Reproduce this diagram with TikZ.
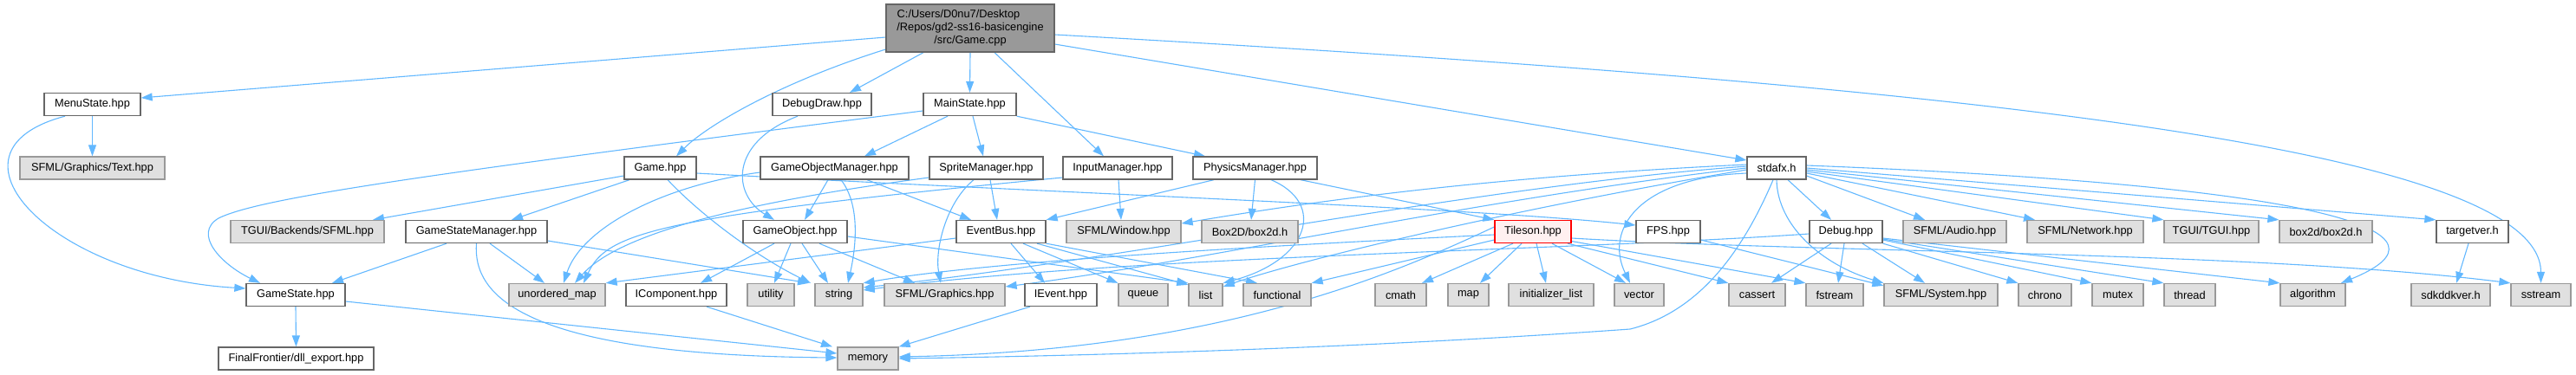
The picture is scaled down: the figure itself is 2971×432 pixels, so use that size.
\documentclass[tikz,border=0pt]{standalone}
\usepackage{fontspec}
\setmainfont{Liberation Sans}
\usetikzlibrary{arrows.meta}
\definecolor{edgec}{HTML}{63B8FF}
\definecolor{bdw}{HTML}{666666}
\definecolor{bdg}{HTML}{999999}
\definecolor{fillg}{HTML}{E0E0E0}
\definecolor{fillroot}{HTML}{999999}
\definecolor{tilf}{HTML}{FFF0F0}
\definecolor{tild}{HTML}{FF0000}
\pgfdeclarelayer{edges}
\pgfsetlayers{edges,main}
\newcommand\NB[6]{\node[#1, minimum width={(#4-#3)*1pt}] (#2) at ({(#3+#4)/2},#5) {#6};}
\tikzset{
  box/.style={rectangle, inner sep=0pt, minimum height=26pt, line width=1.3pt, text=black,
    font=\fontsize{12.8}{15}\selectfont},
  wn/.style={box, draw=bdw, fill=white},
  gn/.style={box, draw=bdg, fill=fillg},
  rn/.style={box, draw=tild, fill=tilf},
  rootn/.style={box, draw=bdw, fill=fillroot, align=center},
  e/.style={draw=edgec, line width=1.1pt, -{Triangle[length=13pt,width=9pt]}}
}
\begin{document}
\begin{tikzpicture}[x=1pt,y=-1pt]
\useasboundingbox (0,0) rectangle (2971,432);
% row 0
\node[rootn, minimum width=194pt, minimum height=55pt] (root) at (1119,32.5)
  {C:/Users/D0nu7/Desktop\hspace*{27pt}\\/Repos/gd2-ss16-basicengine\\/src/Game.cpp};
% row 1
\NB{wn}{menu}{51}{162}{120.5}{MenuState.hpp}
\NB{wn}{ddraw}{891}{1005}{120.5}{DebugDraw.hpp}
\NB{wn}{mainst}{1065}{1172}{120.5}{MainState.hpp}
% row 2
\NB{gn}{text}{23}{190}{194}{SFML/Graphics/Text.hpp}
\NB{wn}{gameh}{720}{803}{194}{Game.hpp}
\NB{wn}{gom}{877}{1048}{194}{GameObjectManager.hpp}
\NB{wn}{sprite}{1072}{1203}{194}{SpriteManager.hpp}
\NB{wn}{input}{1226}{1352}{194}{InputManager.hpp}
\NB{wn}{phys}{1376}{1519}{194}{PhysicsManager.hpp}
\NB{wn}{stdafx}{2015}{2083}{194}{stdafx.h}
% row 3
\NB{gn}{tguib}{266}{443}{267.5}{TGUI/Backends/SFML.hpp}
\NB{wn}{gsm}{468}{631}{267.5}{GameStateManager.hpp}
\NB{wn}{gobj}{857}{977}{267.5}{GameObject.hpp}
\NB{wn}{ebus}{1103}{1206}{267.5}{EventBus.hpp}
\NB{gn}{window}{1230}{1362}{267.5}{SFML/Window.hpp}
\NB{gn}{boxD}{1386}{1497}{267.5}{Box2D/box2d.h}
\NB{rn}{tileson}{1724}{1812}{267.5}{Tileson.hpp}
\NB{wn}{fps}{1887}{1961}{267.5}{FPS.hpp}
\NB{wn}{debug}{2087}{2171}{267.5}{Debug.hpp}
\NB{gn}{audio}{2195}{2314}{267.5}{SFML/Audio.hpp}
\NB{gn}{network}{2338}{2472}{267.5}{SFML/Network.hpp}
\NB{gn}{tgui}{2496}{2605}{267.5}{TGUI/TGUI.hpp}
\NB{gn}{boxd}{2629}{2736}{267.5}{box2d/box2d.h}
\NB{wn}{targetver}{2810}{2893}{267.5}{targetver.h}
% row 4
\NB{wn}{gstate}{284}{398}{340.5}{GameState.hpp}
\NB{gn}{umap}{587}{698}{340.5}{unordered\_map}
\NB{wn}{icomp}{722}{838}{340.5}{IComponent.hpp}
\NB{gn}{utility}{862}{916}{340.5}{utility}
\NB{gn}{string}{940}{995}{340.5}{string}
\NB{gn}{graphics}{1020}{1159}{340.5}{SFML/Graphics.hpp}
\NB{wn}{ievent}{1182}{1265}{340.5}{IEvent.hpp}
\NB{gn}{queue}{1290}{1347}{340.5}{queue}
\NB{gn}{list}{1371}{1410}{340.5}{list}
\NB{gn}{functional}{1434}{1512}{340.5}{functional}
\NB{gn}{cmath}{1586}{1645}{340.5}{cmath}
\NB{gn}{map}{1670}{1717}{340.5}{map}
\NB{gn}{initl}{1740}{1838}{340.5}{initializer\_list}
\NB{gn}{vector}{1862}{1919}{340.5}{vector}
\NB{gn}{cassert}{1994}{2059}{340.5}{cassert}
\NB{gn}{fstream}{2083}{2149}{340.5}{fstream}
\NB{gn}{system}{2173}{2304}{340.5}{SFML/System.hpp}
\NB{gn}{chrono}{2328}{2389}{340.5}{chrono}
\NB{gn}{mutex}{2413}{2472}{340.5}{mutex}
\NB{gn}{thread}{2496}{2555}{340.5}{thread}
\NB{gn}{algorithm}{2630}{2705}{340.5}{algorithm}
\NB{gn}{sdk}{2781}{2872}{340.5}{sdkddkver.h}
\NB{gn}{sstream}{2896}{2965}{340.5}{sstream}
% row 5
\NB{wn}{dll}{252}{431}{414}{FinalFrontier/dll\_export.hpp}
\NB{gn}{memory}{966}{1036}{414}{memory}

\begin{pgfonlayer}{edges}
% Game.cpp
\draw[e] ([yshift=-10.5pt]root.west) -- ([yshift=7.5pt]menu.east);
\draw[e] ([yshift=-24.5pt]root.west) .. controls (900,95) and (815,145) .. ([xshift=18.5pt]gameh.north);
\draw[e] ([xshift=-54pt]root.south) -- ([xshift=32pt]ddraw.north);
\draw[e] (root.south) -- (mainst.north);
\draw[e] ([xshift=28pt]root.south) -- ([xshift=-16pt]input.north);
\draw[e] ([yshift=-18.5pt]root.east) -- ([yshift=9pt]stdafx.west);
\draw[e] ([yshift=-7.5pt]root.east) .. controls (2200,95) and (2930,165) .. (sstream.north);
% MenuState
\draw[e] (menu.south) -- (text.north);
\draw[e] ([xshift=-31.5pt]menu.south) .. controls (-80,175) and (60,320) .. ([yshift=7.5pt]gstate.west);
% DebugDraw
\draw[e] ([xshift=-28pt]ddraw.south) .. controls (840,165) and (845,225) .. ([xshift=-24pt]gobj.north);
% MainState
\draw[e] ([yshift=-7.5pt]mainst.west) .. controls (500,200) and (300,228) .. (252,252)
  .. controls (222,270) and (255,305) .. ([xshift=-41pt]gstate.north);
\draw[e] ([xshift=-25.5pt]mainst.south) -- ([xshift=34.5pt]gom.north);
\draw[e] ([xshift=3.5pt]mainst.south) -- ([xshift=-3.5pt]sprite.north);
\draw[e] (mainst.south east) -- ([xshift=-57.5pt]phys.north);
% Game.hpp
\draw[e] ([yshift=-9pt]gameh.west) -- ([xshift=75.5pt]tguib.north);
\draw[e] ([xshift=-35.5pt]gameh.south) -- ([xshift=40.5pt]gsm.north);
\draw[e] ([xshift=8.5pt]gameh.south) .. controls (815,255) and (880,300) .. ([xshift=-32.5pt]string.north);
\draw[e] ([yshift=-6pt]gameh.east) .. controls (1200,222) and (1700,240) .. ([yshift=7.5pt]fps.west);
% GameObjectManager
\draw[e] ([yshift=-5pt]gom.west) .. controls (760,215) and (670,265) .. ([xshift=7.5pt]umap.north);
\draw[e] ([xshift=-7.5pt]gom.south) -- ([xshift=11pt]gobj.north);
\draw[e] ([xshift=7.5pt]gom.south) .. controls (995,240) and (985,295) .. ([xshift=10.5pt]string.north);
\draw[e] ([xshift=37.5pt]gom.south) -- ([xshift=-34.5pt]ebus.north);
% SpriteManager
\draw[e] ([xshift=4.5pt]sprite.south) -- ([xshift=-4.5pt]ebus.north);
\draw[e] ([xshift=-14.5pt]sprite.south) .. controls (1090,235) and (1078,290) .. ([xshift=-4.5pt]graphics.north);
\draw[e] ([yshift=-11pt]sprite.west) .. controls (900,228) and (720,262) .. ([xshift=20.5pt]umap.north);
% InputManager
\draw[e] ([xshift=1pt]input.south) -- ([xshift=-3pt]window.north);
\draw[e] ([yshift=-11pt]input.west) .. controls (760,250) and (700,268) .. ([xshift=30.5pt]umap.north);
% PhysicsManager
\draw[e] ([xshift=-47.5pt]phys.south) -- (ebus.north east);
\draw[e] (phys.south) -- ([xshift=1.5pt]boxD.north);
\draw[e] ([xshift=18.5pt]phys.south) .. controls (1530,235) and (1510,300) .. (list.north east);
\draw[e] ([xshift=52.5pt]phys.south) -- (tileson.north west);
% GameStateManager
\draw[e] ([xshift=-34.5pt]gsm.south) -- ([xshift=42pt]gstate.north);
\draw[e] ([xshift=15.5pt]gsm.south) -- ([xshift=-14.5pt]umap.north);
\draw[e] ([yshift=-10.5pt]gsm.east) -- ([xshift=-34.5pt]string.north);
\draw[e] (gsm.south) .. controls (545,340) and (600,410) .. ([yshift=1pt]memory.west);
% GameState
\draw[e] (gstate.south) -- (dll.north);
\draw[e] ([yshift=-7.5pt]gstate.east) -- ([yshift=6pt]memory.west);
% GameObject
\draw[e] ([xshift=-24pt]gobj.south) -- ([xshift=28pt]icomp.north);
\draw[e] ([xshift=-5pt]gobj.south) -- ([xshift=4pt]utility.north);
\draw[e] ([xshift=8pt]gobj.south) -- ([xshift=-12.5pt]string.north);
\draw[e] ([xshift=28pt]gobj.south) -- ([xshift=-34.5pt]graphics.north);
\draw[e] ([yshift=-5.5pt]gobj.east) -- (list.north west);
% IComponent, IEvent
\draw[e] ([xshift=35pt]icomp.south) -- ([xshift=-41pt]memory.north);
\draw[e] ([xshift=-35.5pt]ievent.south) -- (memory.north east);
% EventBus
\draw[e] ([xshift=11.5pt]ebus.south) -- ([xshift=-18.5pt]ievent.north);
\draw[e] ([xshift=25.5pt]ebus.south) -- (queue.north west);
\draw[e] ([xshift=41.5pt]ebus.south) -- ([yshift=-2pt]list.north west);
\draw[e] (ebus.south east) -- ([xshift=-23pt]functional.north);
\draw[e] ([yshift=-7.5pt]ebus.west) -- (umap.north east);
% stdafx
\draw[e] ([xshift=13pt]stdafx.south) -- ([xshift=-17pt]debug.north);
\draw[e] ([yshift=-9pt]stdafx.east) -- ([xshift=-34.5pt]audio.north);
\draw[e] ([yshift=-6pt]stdafx.east) -- ([xshift=-58pt]network.north);
\draw[e] ([yshift=-4pt]stdafx.east) -- (tgui.north west);
\draw[e] ([yshift=-2pt]stdafx.east) -- (boxd.north west);
\draw[e] (stdafx.east) -- (targetver.north west);
\draw[e] ([yshift=3pt]stdafx.east) .. controls (2700,215) and (2840,270) .. ([xshift=32.5pt]algorithm.north);
\draw[e] (stdafx.south) .. controls (2050,260) and (2100,305) .. (system.north west);
\draw[e] ([xshift=-4pt]stdafx.south) .. controls (2010,290) and (1960,360) .. (1880,380) .. controls (1600,400) and (1300,410) .. (memory.east);
\draw[e] ([yshift=2pt]stdafx.west) .. controls (1700,215) and (1300,300) .. ([yshift=8.5pt]string.east);
\draw[e] (stdafx.west) .. controls (1700,230) and (1400,300) .. ([yshift=9.5pt]graphics.east);
\draw[e] ([yshift=-2pt]stdafx.west) .. controls (1750,240) and (1500,300) .. ([yshift=9.5pt]list.east);
\draw[e] ([yshift=4pt]stdafx.west) .. controls (1700,205) and (1500,235) .. ([yshift=9.5pt]window.east);
\draw[e] ([yshift=-6pt]stdafx.west) .. controls (1890,205) and (1850,265) .. ([xshift=-10.5pt]vector.north);
% Tileson
\draw[e] ([yshift=5.5pt]tileson.west) .. controls (1600,320) and (1400,405) .. ([yshift=2pt]memory.east);
\draw[e] ([xshift=-23pt]tileson.south) -- ([xshift=24.5pt]cmath.north);
\draw[e] ([xshift=-13pt]tileson.south) -- ([xshift=13.5pt]map.north);
\draw[e] ([xshift=4pt]tileson.south) -- ([xshift=-6pt]initl.north);
\draw[e] ([xshift=22pt]tileson.south) -- ([xshift=-15.5pt]vector.north);
\draw[e] ([xshift=40pt]tileson.south) -- (cassert.north west);
\draw[e] ([yshift=-11pt]tileson.east) -- (fstream.north west);
\draw[e] ([yshift=-7.5pt]tileson.east) .. controls (2100,292) and (2600,290) .. (sstream.north west);
\draw[e] ([yshift=-9.5pt]tileson.west) -- (functional.north east);
\draw[e] ([yshift=-3.5pt]tileson.west) .. controls (1500,282) and (1150,300) .. (string.north east);
% Debug
\draw[e] ([yshift=-2.5pt]debug.west) .. controls (1800,290) and (1300,295) .. ([yshift=5.5pt]string.east);
\draw[e] ([xshift=-17pt]debug.south) -- ([xshift=16.5pt]cassert.north);
\draw[e] ([xshift=-2pt]debug.south) -- ([xshift=4pt]fstream.north);
\draw[e] ([xshift=19pt]debug.south) -- ([xshift=-18.5pt]system.north);
\draw[e] (debug.south east) -- (chrono.north west);
\draw[e] ([yshift=-9.5pt]debug.east) -- (mutex.north west);
\draw[e] ([yshift=-8.5pt]debug.east) -- (thread.north west);
\draw[e] ([yshift=-7.5pt]debug.east) -- (algorithm.north west);
% FPS, targetver
\draw[e] ([yshift=-9.5pt]fps.east) -- ([yshift=-3pt]system.north west);
\draw[e] ([xshift=-4.5pt]targetver.south) -- ([xshift=6.5pt]sdk.north);
\end{pgfonlayer}
\end{tikzpicture}
\end{document}
